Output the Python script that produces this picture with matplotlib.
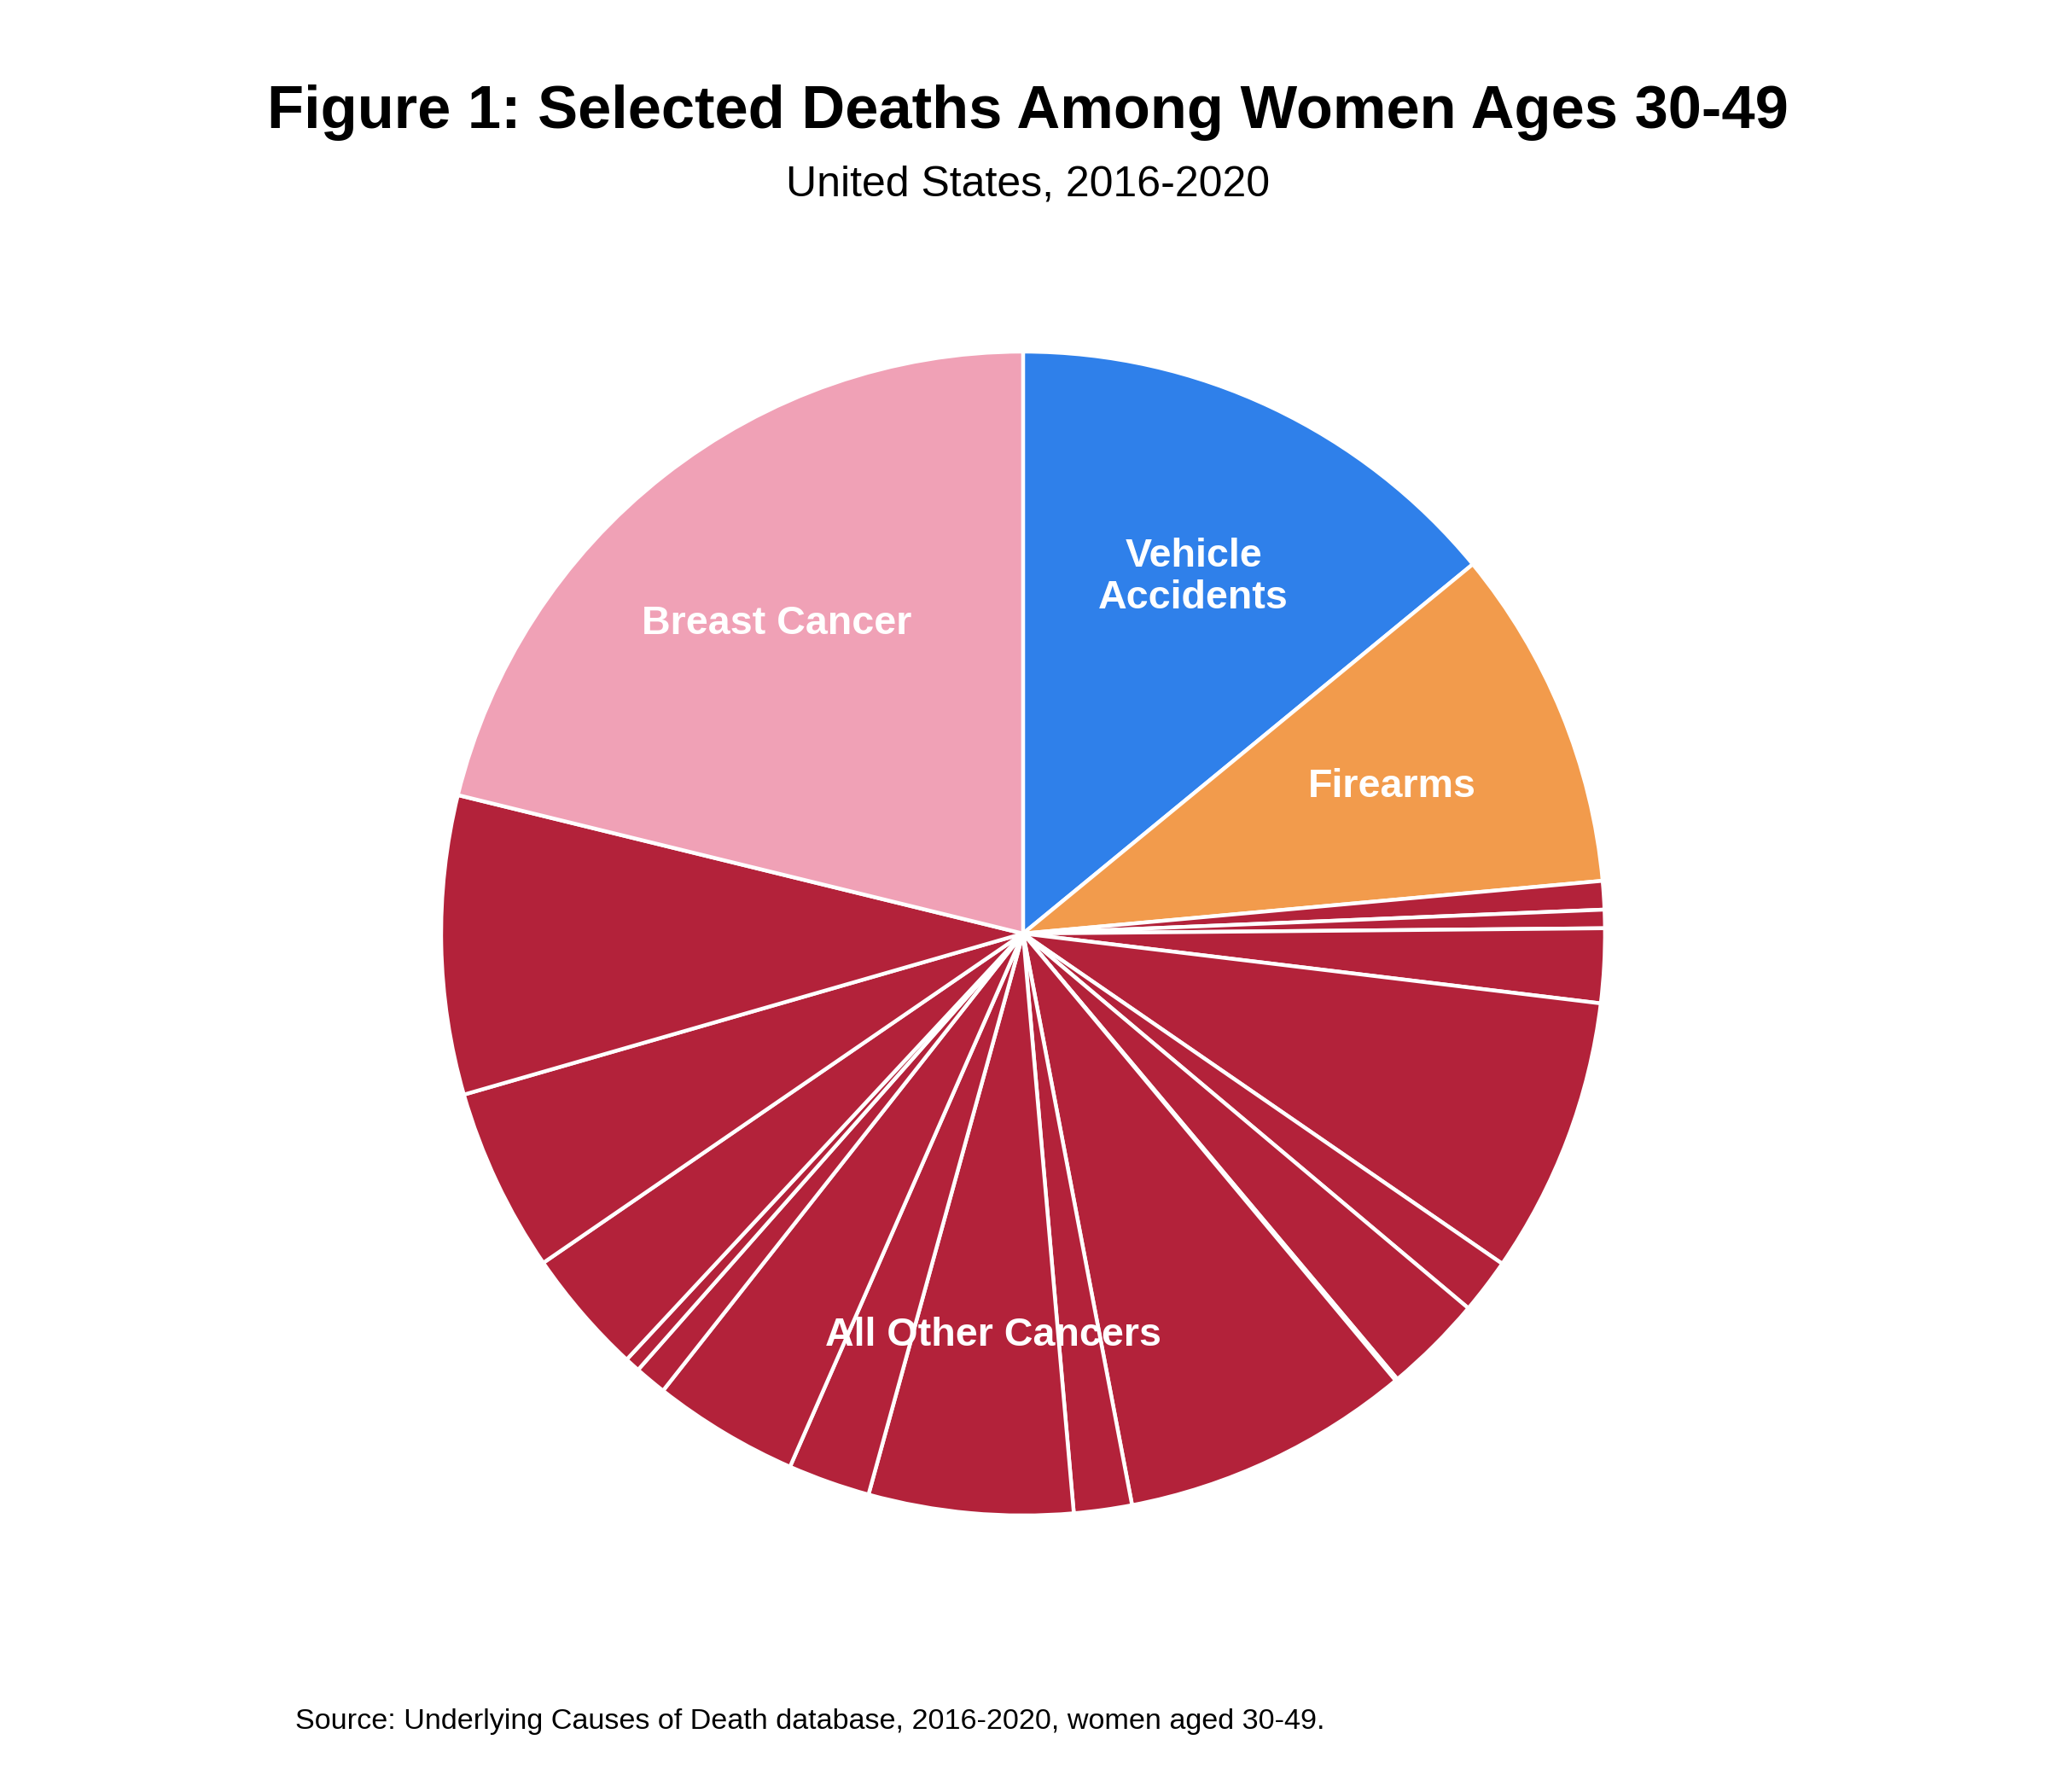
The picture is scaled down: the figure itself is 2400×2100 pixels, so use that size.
import matplotlib
matplotlib.use('Agg')
import matplotlib.pyplot as plt
import numpy as np

plt.rcParams['font.family'] = ['Liberation Sans', 'DejaVu Sans']

# share of deaths (%), clockwise from 12 o'clock
causes = ['Vehicle Accidents', 'Firearms',
          'Cancer 1', 'Cancer 2', 'Cancer 3', 'Cancer 4', 'Cancer 5',
          'Cancer 6', 'Cancer 7', 'Cancer 8', 'Cancer 9', 'Cancer 10',
          'Cancer 11', 'Cancer 12', 'Cancer 13', 'Cancer 14', 'Cancer 15',
          'Cancer 16', 'Cancer 17', 'Breast Cancer']
shares = [14.06, 9.50,
          0.79, 0.51, 2.06, 7.69, 1.53,
          2.75, 0.06, 8.06, 1.61, 5.67,
          2.28, 4.06, 0.89, 0.42, 3.50,
          5.11, 8.29, 21.18]
groups = ['Vehicle\nAccidents', 'Firearms'] + ['All Other Cancers'] * 17 + ['Breast Cancer']
group_colors = {'Vehicle\nAccidents': '#2F80EA',
                'Firearms': '#F29B4C',
                'All Other Cancers': '#B3223A',
                'Breast Cancer': '#F0A1B6'}

fig = plt.figure(figsize=(12, 10.5), dpi=200)
ax = fig.add_axes([0.2154, 0.1543, 0.5683, 0.6495])

colors = [group_colors[g] for g in groups]
wedges, _ = ax.pie(shares, colors=colors, startangle=90, counterclock=False,
                   radius=1.0, wedgeprops=dict(edgecolor='white', linewidth=1.6))
ax.set_xlim(-1, 1)
ax.set_ylim(-1, 1)
ax.set_aspect('equal')
ax.axis('off')

# one label per group, at the middle of the group's wedges
for g in dict.fromkeys(groups):
    th = [w for w, gg in zip(wedges, groups) if gg == g]
    lo = min(w.theta1 for w in th)
    hi = max(w.theta2 for w in th)
    mid = np.radians((lo + hi) / 2)
    ax.text(0.685 * np.cos(mid), 0.685 * np.sin(mid) - 0.007, g, color='white',
            fontsize=16.8, fontweight='bold', ha='center', va='center',
            linespacing=1.15)

fig.text(0.502, 0.937, 'Figure 1: Selected Deaths Among Women Ages 30-49',
         fontsize=25.4, fontweight='bold', ha='center', va='center')
fig.text(0.502, 0.897, 'United States, 2016-2020', fontsize=18,
         ha='center', va='center')
fig.text(0.144, 0.0395, 'Source: Underlying Causes of Death database, 2016-2020, women aged 30-49.',
         fontsize=12.3, ha='left', va='center')

fig.savefig('out.png', dpi=200, facecolor='white')
